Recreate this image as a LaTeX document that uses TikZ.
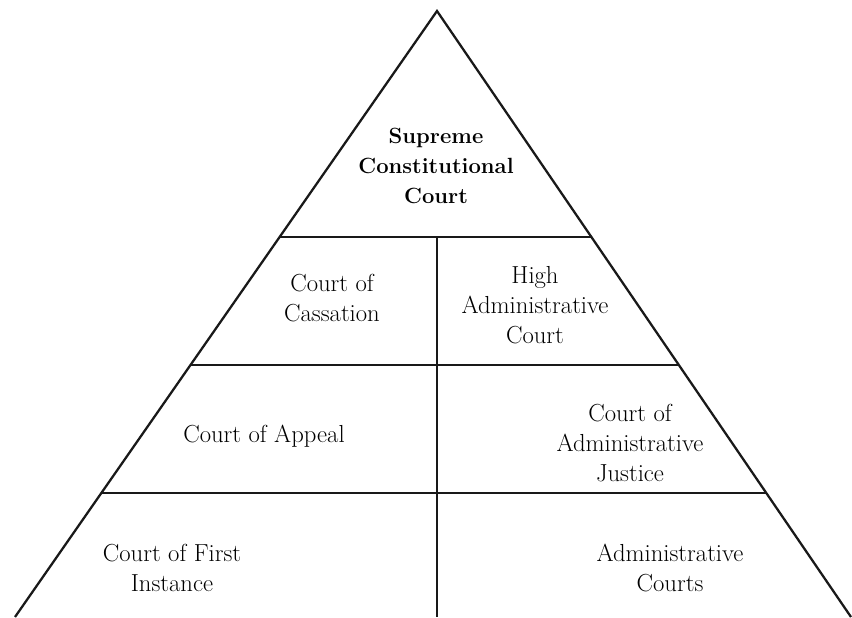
\documentclass[tikz,border=0pt]{standalone}
\usetikzlibrary{calc}
\tikzset{
  court/.style={align=center, font=\fontsize{18.5}{22.5}\selectfont, inner sep=0pt},
  tier/.style={line width=1.7pt, black!90}
}
\begin{document}
\begin{tikzpicture}[x=0.75pt,y=-0.75pt]
        \useasboundingbox (0,0) rectangle (852,617);
        % pyramid outline
        \coordinate (apex) at (437,11);
        \coordinate (bl) at (15,617);
        \coordinate (br) at (851,617);
        \draw[tier, line join=miter] (bl) -- (apex) -- (br);
        % tiers
        \draw[tier] ($(apex)!0.373!(bl)$) -- ($(apex)!0.373!(br)$);
        \draw[tier] ($(apex)!0.584!(bl)$) -- ($(apex)!0.584!(br)$);
        \draw[tier] ($(apex)!0.795!(bl)$) -- ($(apex)!0.795!(br)$);
        \draw[tier] (437,237) -- (437,617);
        % courts
        \node[court, font=\fontsize{16.5}{22.5}\selectfont\bfseries] (scc) at (436,166) {Supreme\\Constitutional\\Court};
        \node[court] (cass) at (332,298) {Court of\\Cassation};
        \node[court] (hac) at (535,305) {High\\Administrative\\Court};
        \node[court] (appeal) at (264,436) {Court of Appeal};
        \node[court] (caj) at (630,443) {Court of\\Administrative\\Justice};
        \node[court] (first) at (172,568) {Court of First\\Instance};
        \node[court] (adm) at (670,568) {Administrative\\Courts};
      \end{tikzpicture}
\end{document}
